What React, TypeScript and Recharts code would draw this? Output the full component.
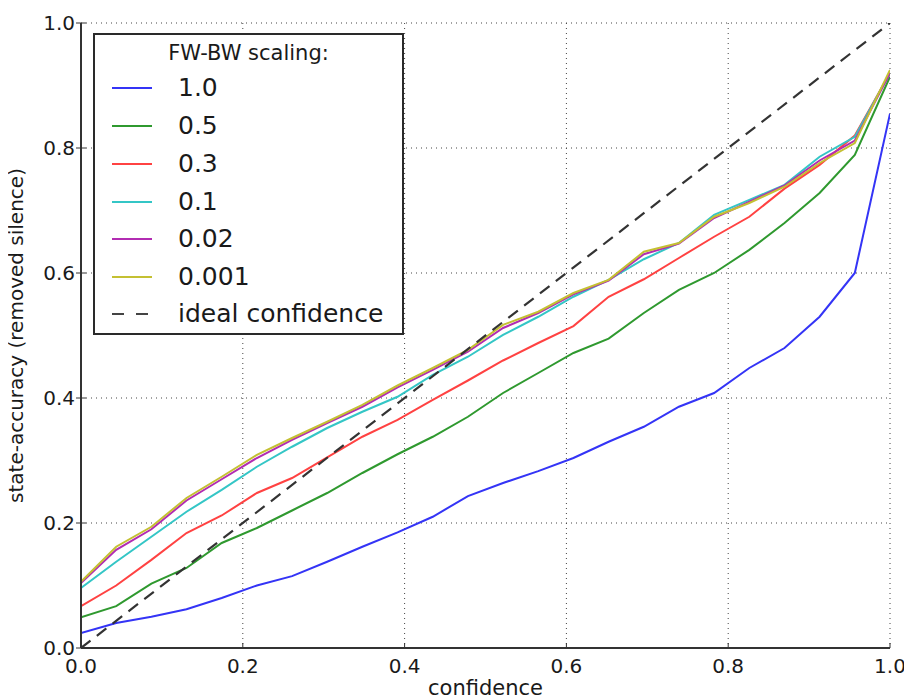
// Calibration chart: state-accuracy vs confidence for several FW-BW scaling factors.
import React from "react";
import {
  LineChart,
  Line,
  XAxis,
  YAxis,
  CartesianGrid,
  Legend,
} from "recharts";

const confidence = [
  0, 0.0435, 0.087, 0.1304, 0.1739, 0.2174, 0.2609, 0.3043, 0.3478, 0.3913,
  0.4348, 0.4783, 0.5217, 0.5652, 0.6087, 0.6522, 0.6957, 0.7391, 0.7826,
  0.8261, 0.8696, 0.913, 0.9565, 1.0,
];

const scale10 = [
  0.024, 0.04, 0.05, 0.062, 0.08, 0.1, 0.115, 0.138, 0.162, 0.185, 0.21, 0.243,
  0.264, 0.283, 0.304, 0.33, 0.354, 0.386, 0.408, 0.448, 0.48, 0.53, 0.6, 0.855,
];
const scale05 = [
  0.049, 0.067, 0.103, 0.128, 0.168, 0.192, 0.22, 0.248, 0.28, 0.31, 0.338,
  0.37, 0.408, 0.44, 0.472, 0.495, 0.536, 0.573, 0.6, 0.637, 0.68, 0.728,
  0.789, 0.914,
];
const scale03 = [
  0.067, 0.1, 0.141, 0.184, 0.212, 0.248, 0.272, 0.305, 0.338, 0.365, 0.397,
  0.428, 0.46, 0.488, 0.515, 0.562, 0.59, 0.624, 0.658, 0.69, 0.735, 0.773,
  0.82, 0.92,
];
const scale01 = [
  0.096, 0.138, 0.178, 0.218, 0.253, 0.29, 0.322, 0.352, 0.378, 0.402, 0.437,
  0.466, 0.501, 0.53, 0.562, 0.589, 0.622, 0.648, 0.693, 0.717, 0.741, 0.786,
  0.818, 0.92,
];
const scale002 = [
  0.104, 0.157, 0.19, 0.236, 0.27, 0.304, 0.333, 0.36, 0.386, 0.417, 0.445,
  0.474, 0.512, 0.536, 0.566, 0.588, 0.63, 0.647, 0.688, 0.714, 0.74, 0.78,
  0.812, 0.92,
];
const scale0001 = [
  0.106, 0.162, 0.194, 0.24, 0.274, 0.309, 0.336, 0.362, 0.389, 0.42, 0.448,
  0.477, 0.517, 0.538, 0.568, 0.589, 0.634, 0.648, 0.69, 0.712, 0.738, 0.776,
  0.808, 0.925,
];

const idealX = [0, 1];
const idealY = [0, 1];

const axisTicks = [0, 0.2, 0.4, 0.6, 0.8, 1.0];

const seriesDefs = [
  { key: "s10", name: "1.0", color: "#3434f6", values: scale10 },
  { key: "s05", name: "0.5", color: "#2f992f", values: scale05 },
  { key: "s03", name: "0.3", color: "#ff4242", values: scale03 },
  { key: "s01", name: "0.1", color: "#34c6c6", values: scale01 },
  { key: "s002", name: "0.02", color: "#b22cb2", values: scale002 },
  { key: "s0001", name: "0.001", color: "#c4c032", values: scale0001 },
];

const data = confidence.map((x, i) => {
  const row: Record<string, number> = { x };
  seriesDefs.forEach((s) => {
    row[s.key] = s.values[i];
  });
  return row;
});

const idealData = idealX.map((x, i) => ({ x, y: idealY[i] }));

const FRAME = "#333";
const TEXT = "#1a1a1a";

const BottomTick = (props: any) => {
  const { x, y, payload } = props;
  return (
    <g>
      <line x1={x} x2={x} y1={y} y2={y - 5} stroke={FRAME} strokeWidth={1} />
      <text x={x} y={y + 25} textAnchor="middle" fontSize={20} fill={TEXT}>
        {Number(payload.value).toFixed(1)}
      </text>
    </g>
  );
};

const LeftTick = (props: any) => {
  const { x, y, payload } = props;
  return (
    <g>
      <line x1={x - 5} x2={x + 5} y1={y} y2={y} stroke={FRAME} strokeWidth={1} />
      <text x={x - 6} y={y + 7} textAnchor="end" fontSize={20} fill={TEXT}>
        {Number(payload.value).toFixed(1)}
      </text>
    </g>
  );
};

const TopTick = (props: any) => {
  const { x, y } = props;
  return <line x1={x} x2={x} y1={y} y2={y + 5} stroke={FRAME} strokeWidth={1} />;
};

const RightTick = (props: any) => {
  const { x, y } = props;
  return <line x1={x} x2={x - 5} y1={y} y2={y} stroke={FRAME} strokeWidth={1} />;
};

const YLabel = (props: any) => {
  const { viewBox } = props;
  const cx = 23;
  const cy = viewBox.y + viewBox.height / 2;
  return (
    <text
      x={cx}
      y={cy}
      transform={`rotate(-90, ${cx}, ${cy})`}
      textAnchor="middle"
      fontSize={20}
      fill={TEXT}
    >
      state-accuracy (removed silence)
    </text>
  );
};

const XLabel = (props: any) => {
  const { viewBox } = props;
  return (
    <text
      x={viewBox.x + viewBox.width / 2}
      y={695}
      textAnchor="middle"
      fontSize={21}
      fill={TEXT}
    >
      confidence
    </text>
  );
};

// legend row centres, page pixels
const BOX_TOP = 33;
const rowCentre = [88, 126, 164, 202, 239, 277, 314];

const LegendBox = () => {
  return (
    <div
      style={{
        position: "relative",
        width: 311,
        height: 302,
        boxSizing: "border-box",
        border: "2px solid #2a2a2a",
        background: "#fff",
        fontFamily: "'DejaVu Sans', sans-serif",
        color: TEXT,
      }}
    >
      <div
        style={{
          position: "absolute",
          left: 0,
          width: "100%",
          top: 53 - BOX_TOP - 15,
          textAlign: "center",
          fontSize: 21,
          lineHeight: "26px",
        }}
      >
        FW-BW scaling:
      </div>
      {seriesDefs.map((s, i) => (
        <React.Fragment key={s.key}>
          <div
            style={{
              position: "absolute",
              left: 17,
              width: 40,
              top: rowCentre[i] - BOX_TOP - 3,
              height: 2,
              background: s.color,
            }}
          />
          <div
            style={{
              position: "absolute",
              left: 83,
              top: rowCentre[i] - BOX_TOP - 18,
              fontSize: 25,
              lineHeight: "32px",
            }}
          >
            {s.name}
          </div>
        </React.Fragment>
      ))}
      <div
        style={{
          position: "absolute",
          left: 17,
          width: 40,
          top: rowCentre[6] - BOX_TOP - 3,
          height: 2,
          backgroundImage:
            "linear-gradient(to right, #444 0 12px, transparent 12px 24px, #444 24px 36px, transparent 36px)",
        }}
      />
      <div
        style={{
          position: "absolute",
          left: 83,
          top: rowCentre[6] - BOX_TOP - 18,
          fontSize: 25,
          lineHeight: "32px",
          whiteSpace: "nowrap",
        }}
      >
        ideal confidence
      </div>
    </div>
  );
};

export default function App() {
  return (
    <div
      style={{
        fontFamily: "'DejaVu Sans', sans-serif",
        width: 912,
        height: 700,
        margin: "-8px 0 0 -8px",
      }}
    >
      <LineChart
        width={912}
        height={700}
        data={data}
        margin={{ top: 23, right: 22, bottom: 0, left: 8 }}
      >
        <CartesianGrid stroke="#444" strokeDasharray="1 4" />
        <XAxis
          dataKey="x"
          type="number"
          domain={[0, 1]}
          ticks={axisTicks}
          allowDataOverflow
          height={52}
          tickSize={0}
          tickMargin={0}
          tickLine={false}
          axisLine={{ stroke: FRAME, strokeWidth: 2 }}
          tick={<BottomTick />}
          label={<XLabel />}
        />
        <XAxis
          xAxisId="top"
          orientation="top"
          dataKey="x"
          type="number"
          domain={[0, 1]}
          ticks={axisTicks}
          allowDataOverflow
          height={0}
          tickSize={0}
          tickMargin={0}
          tickLine={false}
          axisLine={{ stroke: FRAME, strokeWidth: 2 }}
          tick={<TopTick />}
        />
        <YAxis
          type="number"
          domain={[0, 1]}
          ticks={axisTicks}
          allowDataOverflow
          width={73}
          tickSize={0}
          tickMargin={0}
          tickLine={false}
          axisLine={{ stroke: FRAME, strokeWidth: 2 }}
          tick={<LeftTick />}
          label={<YLabel />}
        />
        <YAxis
          yAxisId="right"
          orientation="right"
          type="number"
          domain={[0, 1]}
          ticks={axisTicks}
          allowDataOverflow
          width={0}
          tickSize={0}
          tickMargin={0}
          tickLine={false}
          axisLine={{ stroke: FRAME, strokeWidth: 2 }}
          tick={<RightTick />}
        />
        {seriesDefs.map((s) => (
          <Line
            key={s.key}
            type="linear"
            dataKey={s.key}
            name={s.name}
            stroke={s.color}
            strokeWidth={2}
            dot={false}
            activeDot={false}
            isAnimationActive={false}
          />
        ))}
        <Line
          data={idealData}
          type="linear"
          dataKey="y"
          name="ideal confidence"
          stroke="#333"
          strokeWidth={2.2}
          strokeDasharray="12 8"
          dot={false}
          activeDot={false}
          isAnimationActive={false}
        />
        <Legend
          layout="vertical"
          align="center"
          verticalAlign="middle"
          content={<LegendBox />}
          wrapperStyle={{ left: 93, top: 33, width: 311, height: 302 }}
        />
      </LineChart>
    </div>
  );
}
